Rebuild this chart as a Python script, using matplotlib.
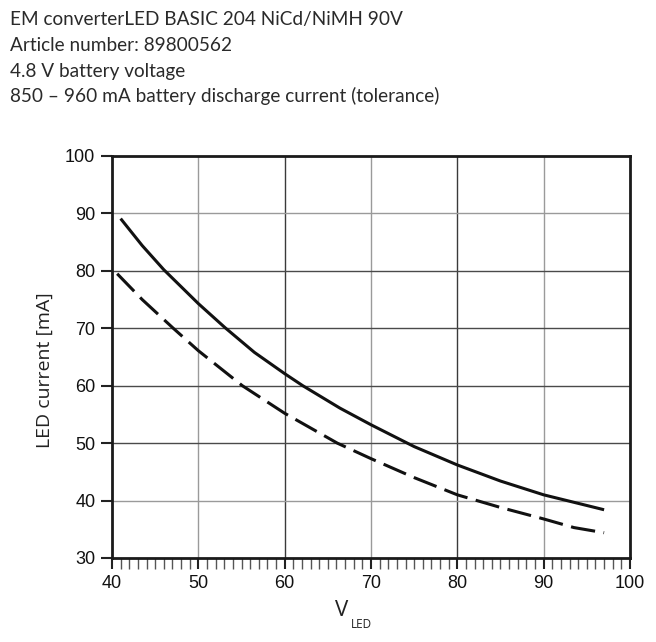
import matplotlib
matplotlib.use("Agg")
import matplotlib.pyplot as plt
from matplotlib.ticker import MultipleLocator

# Data
v_solid = [41.0, 43.5, 46.0, 50.0, 53.1, 56.5, 60.0, 62.1, 66.4, 70.0, 75.0, 80.0, 85.0, 90.0, 93.5, 97.0]
i_solid = [89.1, 84.4, 80.2, 74.3, 70.1, 65.8, 62.1, 60.0, 56.1, 53.2, 49.4, 46.2, 43.4, 41.0, 39.7, 38.4]

v_dashed = [40.6, 43.5, 47.1, 50.0, 55.1, 60.0, 66.1, 70.0, 75.0, 80.0, 85.0, 90.0, 93.5, 97.0]
i_dashed = [79.5, 75.0, 70.0, 66.1, 60.0, 55.2, 50.0, 47.3, 44.0, 41.0, 38.8, 36.8, 35.3, 34.4]

x_ticks = [40, 50, 60, 70, 80, 90, 100]
y_ticks = [30, 40, 50, 60, 70, 80, 90, 100]

title_lines = [
    "EM converterLED BASIC 204 NiCd/NiMH 90V",
    "Article number: 89800562",
    "4.8 V battery voltage",
    "850 – 960 mA battery discharge current (tolerance)",
]

W, H = 656, 642
fig = plt.figure(figsize=(W / 100, H / 100), dpi=100)
ax = fig.add_axes([112 / W, 1 - 558 / H, (630 - 112) / W, (558 - 156) / H])

tick_font = ["Liberation Sans Narrow", "Liberation Sans", "DejaVu Sans"]
text_font = ["Lato", "DejaVu Sans"]
label_font = ["Open Sans", "DejaVu Sans"]

# grid
for x in x_ticks[1:-1]:
    col = "#3a3a3a" if x in (60, 80) else "#9a9a9a"
    ax.axvline(x, color=col, lw=1.0, zorder=1)
for y in y_ticks[1:-1]:
    col = "#9a9a9a" if y in (40, 90) else "#4a4a4a"
    ax.axhline(y, color=col, lw=1.0, zorder=1)

ax.plot(v_solid, i_solid, color="#111111", lw=2.2, solid_capstyle="butt", zorder=3)
ax.plot(v_dashed, i_dashed, color="#111111", lw=2.2, dashes=(8.0, 2.8), zorder=3)

ax.set_xlim(40, 100)
ax.set_ylim(30, 100)
ax.set_xticks(x_ticks)
ax.set_yticks(y_ticks)
ax.xaxis.set_minor_locator(MultipleLocator(1))
ax.tick_params(axis="both", which="major", direction="out", length=8, width=1.5,
               color="#222222", labelsize=13, pad=4)
ax.tick_params(axis="x", which="minor", direction="out", length=8, width=1.0,
               color="#555555")
for lab in ax.get_xticklabels() + ax.get_yticklabels():
    lab.set_family(tick_font)
    lab.set_color("#111111")

for s in ax.spines.values():
    s.set_linewidth(2.0)
    s.set_color("#1a1a1a")

ax.set_ylabel("LED current [mA]", fontsize=14, family=label_font, color="#222222")
ax.yaxis.label.set_va("center")
ax.yaxis.set_label_coords((45 - 112) / 518, (558 - 370) / 402)

ax.set_xlabel("V", fontsize=16, family=label_font, color="#222222")
ax.xaxis.label.set_va("center")
ax.xaxis.set_label_coords((342 - 112) / 518, (558 - 611) / 402)
ax.text((351 - 112) / 518, (558 - 624) / 402, "LED", transform=ax.transAxes,
        fontsize=8.5, family=label_font, color="#222222",
        ha="left", va="center")

for k, t in enumerate(title_lines):
    fig.text(10 / W, 1 - (25 + 25.8 * k) / H, t, fontsize=13.7, family=text_font,
             color="#2a2a2a", va="baseline", ha="left")

fig.savefig("out.png", dpi=100)
